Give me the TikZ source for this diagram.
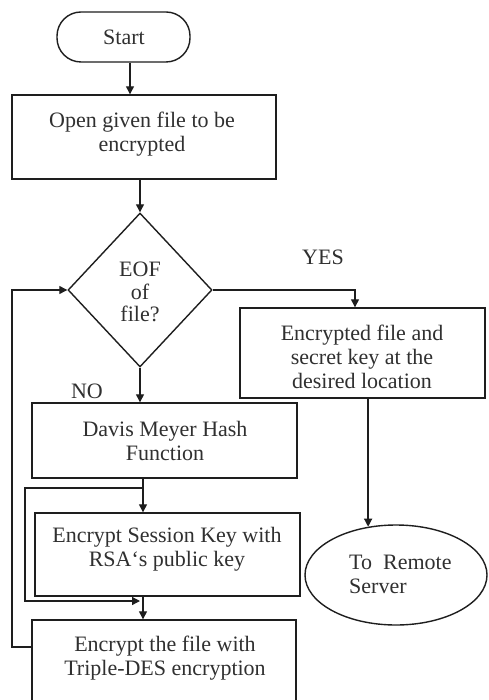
\documentclass[tikz,border=0pt]{standalone}
\usepackage{fontspec}
\setmainfont{Liberation Serif}
\usetikzlibrary{shapes.geometric,arrows.meta,calc}
\definecolor{ink}{HTML}{1E1E1E}
\definecolor{txtc}{HTML}{303030}
\tikzset{
  boxshape/.style={draw=ink, line width=1.4pt, rectangle, inner sep=0pt},
  txt/.style={text=txtc, align=center, inner sep=0pt, font=\fontsize{22}{24}\selectfont},
  arr/.style={draw=ink, line width=1.3pt, -{Triangle[length=8pt,width=8pt]}},
  ln/.style={draw=ink, line width=1.3pt}
}
\begin{document}
\begin{tikzpicture}[x=1pt,y=-1pt]
\useasboundingbox (0,0) rectangle (488,700);
\clip (0,0) rectangle (488,700);
\fill[white] (0,0) rectangle (488,700);
% shapes
\node[boxshape, rounded corners=24pt, minimum width=133pt, minimum height=50pt] (start) at (123.5,37) {};
\node[txt] (starttxt) at (124,37) {Start};
\node[boxshape, minimum width=264pt, minimum height=84pt] (open) at (144,137) {};
\node[txt] (opentxt) at (142,134.5) {Open given file to be\\encrypted};
\node[boxshape, diamond, minimum width=144pt, minimum height=154pt] (dia) at (140,290) {};
\node[txt, font=\fontsize{22}{22.5}\selectfont] (diatxt) at (140,292) {EOF\\of\\file?};
\node[boxshape, minimum width=245pt, minimum height=90pt] (enc) at (362.5,353) {};
\node[txt] (enctxt) at (362,357) {Encrypted file and\\secret key at the\\desired location};
\node[boxshape, minimum width=265pt, minimum height=75pt] (davis) at (164.5,440.5) {};
\node[txt] (davistxt) at (165,440.5) {Davis Meyer Hash\\Function};
\node[boxshape, minimum width=265pt, minimum height=83pt] (sess) at (167.5,554.5) {};
\node[txt] (sesstxt) at (167,549.5) {Encrypt Session Key with\\RSA`s public key};
\node[boxshape, minimum width=264pt, minimum height=100pt] (triple) at (164,670) {};
\node[txt] (tripletxt) at (165,658.5) {Encrypt the file with\\Triple-DES encryption};
\node[boxshape, ellipse, minimum width=182pt, minimum height=100pt] (remote) at (396,575) {};
\node[txt, align=left, anchor=west] (remotetxt) at (349,574.5) {To~~Remote\\Server};
\node[txt] (yes) at (323,257) {YES};
\node[txt] (no) at (87,391) {NO};
% coordinates
\coordinate (j1) at (143,488);
\coordinate (l1) at (25,488);
\coordinate (l2) at (25,601);
\coordinate (j2) at (140,601);
\coordinate (yesdrop) at (355,290);
\coordinate (b1) at (12,647);
\coordinate (b2) at (12,290);
% connectors
\draw[arr] ($(start.south)+(6.5,0)$) -- ($(start.south |- open.north)+(6.5,0)$);
\draw[arr] (dia.north |- open.south) -- (dia.north);
\draw[arr] (dia.east) -- (yesdrop) -- (yesdrop |- enc.north);
\draw[arr] (dia.south) -- (dia.south |- davis.north);
\draw[ln] (j1 |- davis.south) -- (j1);
\draw[arr] (j1) -- (j1 |- sess.north);
\draw[arr] (j1) -- (l1) -- (l2) -- (j2);
\draw[arr] (j1 |- sess.south) -- (j1 |- triple.north);
\draw[arr] (triple.west |- b1) -- (b1) -- (b2) -- (dia.west);
\draw[arr] (enc.south -| remote.120) -- (remote.120);
\end{tikzpicture}
\end{document}
